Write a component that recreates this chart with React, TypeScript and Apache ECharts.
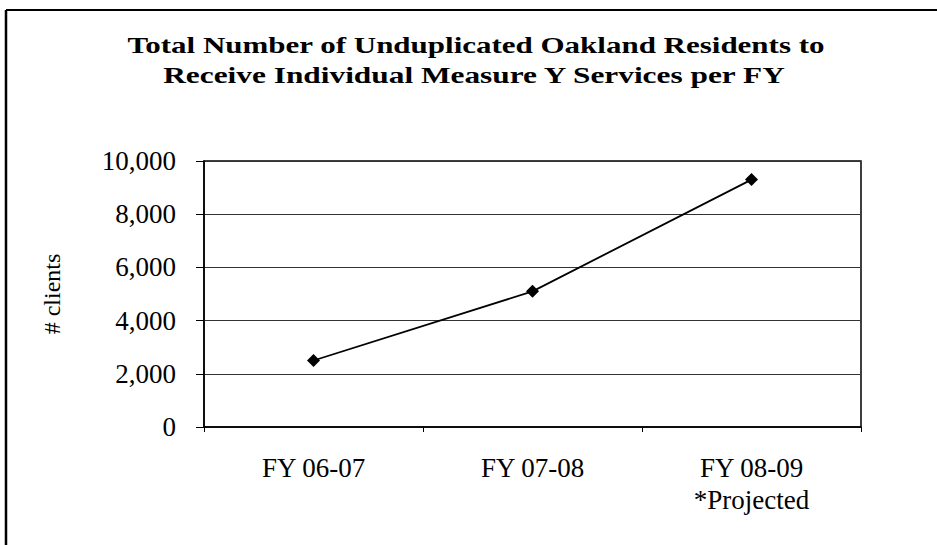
import React, { useEffect, useRef } from "react";
import * as echarts from "echarts";

const categories = ["FY 06-07", "FY 07-08", "FY 08-09"];
const projectedNote = "*Projected";
const clients = [2500, 5100, 9300];
const yTicks = [0, 2000, 4000, 6000, 8000, 10000];
const titleLines = [
  "Total Number of Unduplicated Oakland Residents to",
  "Receive Individual Measure Y Services per FY",
];
const yAxisName = "# clients";

const SERIF = "'Liberation Serif', 'Times New Roman', serif";

function measure(text: string, font: string): number {
  const c = document.createElement("canvas");
  const ctx = c.getContext("2d");
  if (!ctx) return 1;
  ctx.font = font;
  return ctx.measureText(text).width || 1;
}

export default function App() {
  const ref = useRef<HTMLDivElement>(null);
  useEffect(() => {
    if (!ref.current) return;
    const chart = echarts.init(ref.current, undefined, { renderer: "svg" });
    const titleFont = `bold 24px "Liberation Serif"`;
    const targetWidths = [698, 625];
    const titleY = [45, 75];
    const titleX = [476, 474];
    const titleEls = titleLines.map((t, i) => ({
      type: "text",
      x: titleX[i],
      y: titleY[i],
      scaleX: targetWidths[i] / measure(t, titleFont),
      style: {
        text: t,
        fontSize: 24,
        fontWeight: "bold",
        fontFamily: SERIF,
        fill: "#000",
        align: "center",
        verticalAlign: "middle",
      },
    }));
    chart.setOption({
      animation: false,
      backgroundColor: "#fff",
      graphic: [
        ...titleEls,
        {
          type: "line",
          shape: { x1: 6, y1: 10, x2: 937, y2: 10 },
          style: { stroke: "#000", lineWidth: 2 },
        },
        {
          type: "line",
          shape: { x1: 6, y1: 10, x2: 6, y2: 545 },
          style: { stroke: "#000", lineWidth: 2.5 },
        },
      ],
      grid: {
        left: 204,
        right: 76,
        top: 161,
        bottom: 118,
        show: true,
        borderColor: "#000",
        borderWidth: 1.5,
        containLabel: false,
      },
      xAxis: {
        type: "category",
        data: categories,
        boundaryGap: true,
        axisLine: { show: true, lineStyle: { color: "#000", width: 1.5 } },
        axisTick: { show: true, length: 5, lineStyle: { color: "#000" } },
        axisLabel: {
          margin: 25,
          fontFamily: SERIF,
          fontSize: 27,
          color: "#000",
          lineHeight: 32,
          formatter: (v: string, i: number) =>
            i === categories.length - 1 ? `${v}\n${projectedNote}` : v,
        },
      },
      yAxis: {
        type: "value",
        min: yTicks[0],
        max: yTicks[yTicks.length - 1],
        interval: 2000,
        name: yAxisName,
        nameLocation: "middle",
        nameGap: 140,
        nameTextStyle: { fontFamily: SERIF, fontSize: 24, color: "#000" },
        axisLine: { show: true, lineStyle: { color: "#000", width: 1.5 } },
        axisTick: { show: true, length: 8, lineStyle: { color: "#000" } },
        axisLabel: {
          margin: 28,
          fontFamily: SERIF,
          fontSize: 27,
          color: "#000",
          formatter: (v: number) => v.toLocaleString("en-US"),
        },
        splitLine: { show: true, lineStyle: { color: "#333", width: 1.2 } },
      },
      series: [
        {
          type: "line",
          data: clients,
          symbol: "diamond",
          symbolSize: 13,
          itemStyle: { color: "#000" },
          lineStyle: { color: "#000", width: 1.8 },
        },
      ],
    });
    return () => chart.dispose();
  }, []);
  return (
    <div
      ref={ref}
      style={{ position: "fixed", left: 0, top: 0, width: 937, height: 545 }}
    />
  );
}
